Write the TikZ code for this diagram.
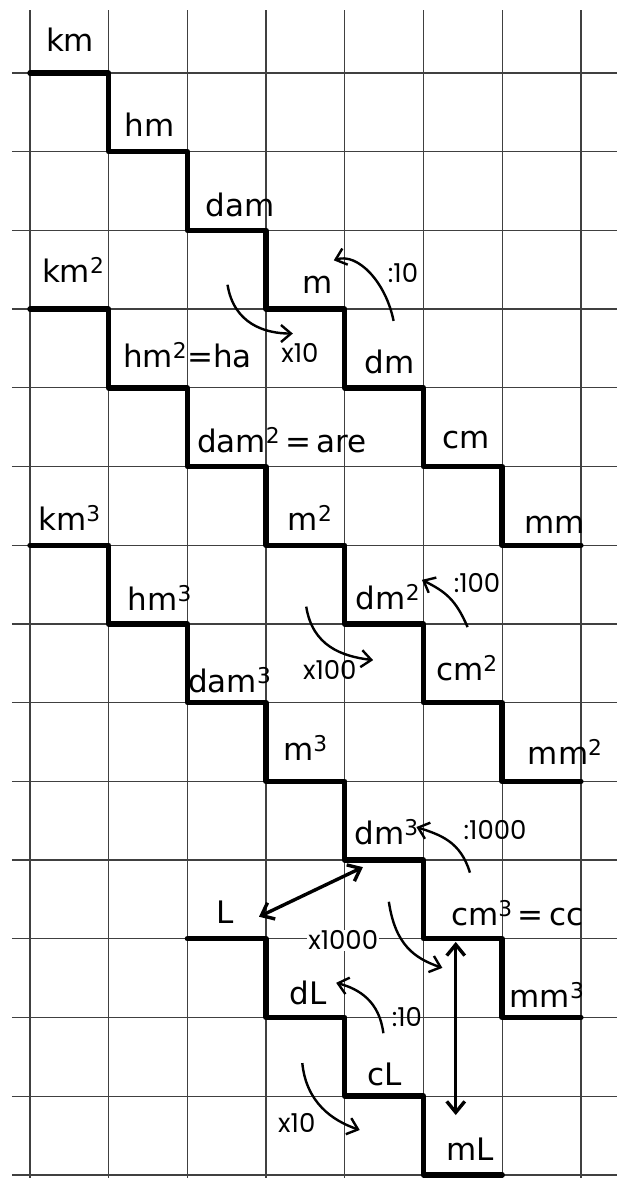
\documentclass[tikz,border=0pt]{standalone}
\usepackage{fontspec}
\setmainfont{DejaVu Sans}
\newfontfamily\notefont{Poppins}
\usetikzlibrary{arrows.meta}

\begin{document}
\begin{tikzpicture}[
  x=78.7pt,y=-78.7pt,
  gridline/.style={draw=black!75,line width=1.3pt},
  stair/.style={draw=black,line width=5.4pt,line cap=round,line join=round},
  unit/.style={font=\fontsize{31}{33}\selectfont,inner sep=0pt},
  note/.style={font=\notefont\fontsize{26}{27}\selectfont,inner sep=1pt},
  arr/.style={-{Straight Barb[length=10pt,width=17pt]},line width=2.4pt},
  dbl/.style={{Straight Barb[length=11pt,width=18pt]}-{Straight Barb[length=11pt,width=18pt]},line width=3.4pt}
]
\fill[white] (-0.381,-0.928) rectangle (7.459,14.04);
\useasboundingbox (-0.381,-0.928) rectangle (7.459,14.04);

\foreach \i in {0,...,7}
  \draw[gridline] (\i,-0.8) -- (\i,14.04);
\foreach \j in {0,...,14}
  \draw[gridline] (-0.23,\j) -- (7.459,\j);

\draw[stair] (0,0) -| (1,1) -| (2,2) -| (3,3) -| (4,4) -| (5,5) -| (6,6) -- (7,6);
\draw[stair] (0,3) -| (1,4) -| (2,5) -| (3,6) -| (4,7) -| (5,8) -| (6,9) -- (7,9);
\draw[stair] (0,6) -| (1,7) -| (2,8) -| (3,9) -| (4,10) -| (5,11) -| (6,12) -- (7,12);
\draw[stair] (2,11) -| (3,12) -| (4,13) -| (5,14) -- (6,14);

\node[unit] (km) at (0.51,-0.42) {km};
\node[unit] (hm) at (1.52,0.66) {hm};
\node[unit] (dam) at (2.67,1.68) {dam};
\node[unit] (m) at (3.66,2.69) {m};
\node[unit] (dm) at (4.57,3.67) {dm};
\node[unit] (cm) at (5.54,4.66) {cm};
\node[unit] (mm) at (6.67,5.74) {mm};

\node[unit] (kmsq) at (0.55,2.5) {km\textsuperscript{2}};
\node[unit] (hmsq) at (2.0,3.58) {hm\textsuperscript{2}=ha};
\node[unit] (damsq) at (3.2,4.66) {dam\textsuperscript{2}\,=\,are};
\node[unit] (msq) at (3.56,5.65) {m\textsuperscript{2}};
\node[unit] (dmsq) at (4.55,6.66) {dm\textsuperscript{2}};
\node[unit] (cmsq) at (5.55,7.56) {cm\textsuperscript{2}};
\node[unit] (mmsq) at (6.8,8.63) {mm\textsuperscript{2}};

\node[unit] (kmcu) at (0.5,5.65) {km\textsuperscript{3}};
\node[unit] (hmcu) at (1.65,6.67) {hm\textsuperscript{3}};
\node[unit] (damcu) at (2.54,7.71) {dam\textsuperscript{3}};
\node[unit] (mcu) at (3.5,8.58) {m\textsuperscript{3}};
\node[unit] (dmcu) at (4.53,9.64) {dm\textsuperscript{3}};
\node[unit] (cmcu) at (6.19,10.67) {cm\textsuperscript{3}\,=\,cc};
\node[unit] (mmcu) at (6.57,11.72) {mm\textsuperscript{3}};

\node[unit] (L) at (2.48,10.66) {L};
\node[unit] (dL) at (3.53,11.69) {dL};
\node[unit] (cL) at (4.51,12.73) {cL};
\node[unit] (mL) at (5.59,13.68) {mL};

\node[note] (div1) at (4.74,2.54) {:10};
\node[note] (mul1) at (3.43,3.56) {x10};
\node[note] (div2) at (5.68,6.48) {:100};
\node[note] (mul2) at (3.81,7.59) {x100};
\node[note] (div3) at (5.91,9.62) {:1000};
\node[note,fill=white] (mul3) at (3.98,11.02) {x1000};
\node[note] (div4) at (4.79,11.99) {:10};
\node[note] (mul4) at (3.39,13.34) {x10};

\coordinate (d1s) at (4.62,3.15);  \coordinate (d1e) at (3.86,2.38);
\coordinate (m1s) at (2.51,2.69);  \coordinate (m1e) at (3.34,3.31);
\coordinate (d2s) at (5.56,7.04);  \coordinate (d2e) at (4.98,6.44);
\coordinate (m2s) at (3.51,6.78);  \coordinate (m2e) at (4.36,7.46);
\coordinate (d3s) at (5.59,10.16); \coordinate (d3e) at (4.91,9.58);
\coordinate (m3s) at (4.56,10.53); \coordinate (m3e) at (5.24,11.37);
\coordinate (d4s) at (4.49,12.2);  \coordinate (d4e) at (3.89,11.56);
\coordinate (m4s) at (3.46,12.58); \coordinate (m4e) at (4.19,13.43);
\coordinate (Lend) at (2.91,10.72); \coordinate (dmend) at (4.23,10.09);
\coordinate (cctop) at (5.41,11.04); \coordinate (mLtop) at (5.41,13.24);

\draw[arr] (d1s) .. controls +(-0.1,-0.5) and +(0.3,-0.1) .. (d1e);
\draw[arr] (m1s) .. controls +(0.08,0.5) and +(-0.35,0) .. (m1e);
\draw[arr] (d2s) .. controls +(-0.15,-0.35) and +(0.3,0.15) .. (d2e);
\draw[arr] (m2s) .. controls +(0.08,0.5) and +(-0.4,-0.05) .. (m2e);
\draw[arr] (d3s) .. controls +(-0.12,-0.4) and +(0.3,0.1) .. (d3e);
\draw[arr] (m3s) .. controls +(0.08,0.55) and +(-0.35,-0.12) .. (m3e);
\draw[arr] (d4s) .. controls +(-0.05,-0.4) and +(0.3,0.08) .. (d4e);
\draw[arr] (m4s) .. controls +(0.05,0.5) and +(-0.35,-0.12) .. (m4e);
\draw[dbl] (Lend) -- (dmend);
\draw[dbl] (cctop) -- (mLtop);
\end{tikzpicture}
\end{document}
